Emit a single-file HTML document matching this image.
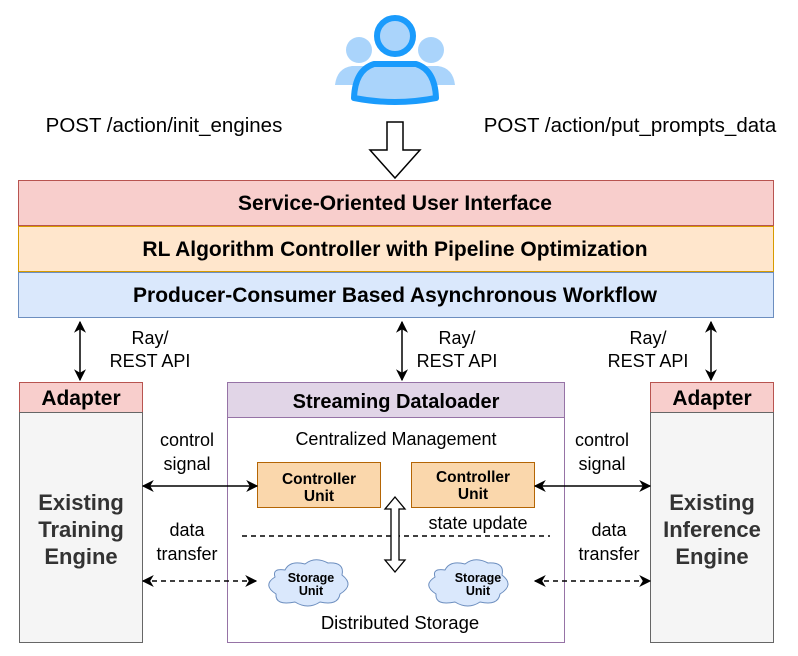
<!DOCTYPE html>
<html><head><meta charset="utf-8"><style>body{margin:0;background:#fff}svg{display:block;font-family:"Liberation Sans",Arial,sans-serif}</style></head><body>
<svg width="798" height="656" viewBox="0 0 798 656" xmlns="http://www.w3.org/2000/svg">
<defs>
<marker id="a" viewBox="0 0 10 10" refX="9" refY="5" markerWidth="12" markerHeight="12" orient="auto-start-reverse" markerUnits="userSpaceOnUse"><path d="M0,0 L10,5 L0,10 L3,5z" fill="#000"/></marker>
</defs>
<g>
<circle cx="359" cy="50" r="13" fill="#aad4fb"/>
<circle cx="431" cy="50" r="13" fill="#aad4fb"/>
<path d="M335,85 Q337,68 352,66 L366,66 Q380,70 380,85z" fill="#aad4fb"/>
<path d="M410,85 Q410,70 424,66 L438,66 Q453,68 455,85z" fill="#aad4fb"/>
<path d="M354,98 Q355,70 374,64 L416,64 Q435,70 436,98 Q395,106 354,98z" fill="#aad4fb" stroke="#1a9bfc" stroke-width="6" stroke-linejoin="round"/>
<circle cx="395" cy="36" r="18" fill="#aad4fb" stroke="#1a9bfc" stroke-width="6"/>
</g>
<text x="164" y="132" font-size="20.5" text-anchor="middle">POST /action/init_engines</text>
<text x="630" y="132" font-size="20.5" text-anchor="middle">POST /action/put_prompts_data</text>
<path d="M387,122 L403,122 L403,150 L420,150 L395,178 L370,150 L387,150z" fill="#fff" stroke="#000" stroke-width="1.5"/>
<rect x="18.5" y="180.5" width="755" height="45" fill="#f8cecc" stroke="#b85450"/>
<rect x="18.5" y="226.5" width="755" height="45" fill="#ffe6cc" stroke="#d79b00"/>
<rect x="18.5" y="272.5" width="755" height="45" fill="#dae8fc" stroke="#6c8ebf"/>
<g font-size="21" font-weight="bold" text-anchor="middle">
<text x="395" y="210">Service-Oriented User Interface</text>
<text x="395" y="256">RL Algorithm Controller with Pipeline Optimization</text>
<text x="395" y="302">Producer-Consumer Based Asynchronous Workflow</text>
</g>
<g stroke="#000" stroke-width="1.5" marker-start="url(#a)" marker-end="url(#a)">
<line x1="80" y1="322" x2="80" y2="380"/>
<line x1="402" y1="322" x2="402" y2="380"/>
<line x1="711" y1="322" x2="711" y2="380"/>
</g>
<g font-size="18" text-anchor="middle">
<text x="150" y="344">Ray/</text><text x="150" y="367">REST API</text>
<text x="457" y="344">Ray/</text><text x="457" y="367">REST API</text>
<text x="648" y="344">Ray/</text><text x="648" y="367">REST API</text>
</g>
<rect x="19.5" y="382.5" width="123" height="30" fill="#f8cecc" stroke="#b85450"/>
<rect x="19.5" y="412.5" width="123" height="230" fill="#f5f5f5" stroke="#666"/>
<rect x="650.5" y="382.5" width="123" height="30" fill="#f8cecc" stroke="#b85450"/>
<rect x="650.5" y="412.5" width="123" height="230" fill="#f5f5f5" stroke="#666"/>
<g font-size="21" font-weight="bold" text-anchor="middle">
<text x="81" y="405">Adapter</text><text x="712" y="405">Adapter</text>
</g>
<g font-size="22" font-weight="bold" text-anchor="middle" fill="#333">
<text x="81" y="510">Existing</text><text x="81" y="537">Training</text><text x="81" y="564">Engine</text>
<text x="712" y="510">Existing</text><text x="712" y="537">Inference</text><text x="712" y="564">Engine</text>
</g>
<rect x="227.5" y="382.5" width="337" height="260" fill="#fff" stroke="#9673a6"/>
<rect x="227.5" y="382.5" width="337" height="35" fill="#e1d5e7" stroke="#9673a6"/>
<text x="396" y="408" font-size="20" font-weight="bold" text-anchor="middle">Streaming Dataloader</text>
<text x="396" y="445" font-size="18" text-anchor="middle">Centralized Management</text>
<rect x="257.5" y="462.5" width="123" height="45" fill="#fad7ac" stroke="#b46504"/>
<rect x="411.5" y="462.5" width="123" height="45" fill="#fad7ac" stroke="#b46504"/>
<g font-size="15.5" font-weight="bold" text-anchor="middle">
<text x="319" y="484">Controller</text><text x="319" y="501">Unit</text>
<text x="473" y="482">Controller</text><text x="473" y="499">Unit</text>
</g>
<text x="478" y="529" font-size="18" text-anchor="middle">state update</text>
<line x1="242" y1="536" x2="550" y2="536" stroke="#000" stroke-width="1.5" stroke-dasharray="5,4"/>
<path d="M395,497 L405,509 L399,509 L399,560 L405,560 L395,572 L385,560 L391,560 L391,509 L385,509z" fill="#fff" stroke="#000" stroke-width="1.3"/>
<g fill="#dae8fc" stroke="#6c8ebf" stroke-width="1">
<path d="M285,570 Q290,560 305,564 Q315,556 328,563 Q345,562 342,575 Q355,585 340,594 Q338,606 320,602 Q308,610 295,602 Q275,606 276,594 Q262,585 275,577 Q272,568 285,570z"/>
<path d="M445,570 Q450,560 465,564 Q475,556 488,563 Q505,562 502,575 Q515,585 500,594 Q498,606 480,602 Q468,610 455,602 Q435,606 436,594 Q422,585 435,577 Q432,568 445,570z"/>
</g>
<g font-size="12.5" font-weight="bold" text-anchor="middle">
<text x="311" y="582">Storage</text><text x="311" y="595">Unit</text>
<text x="478" y="582">Storage</text><text x="478" y="595">Unit</text>
</g>
<text x="400" y="629" font-size="18.5" text-anchor="middle">Distributed Storage</text>
<g font-size="18" text-anchor="middle">
<text x="187" y="446">control</text><text x="187" y="470">signal</text>
<text x="187" y="536">data</text><text x="187" y="560">transfer</text>
<text x="602" y="446">control</text><text x="602" y="470">signal</text>
<text x="609" y="536">data</text><text x="609" y="560">transfer</text>
</g>
<g stroke="#000" stroke-width="1.5" marker-start="url(#a)" marker-end="url(#a)">
<line x1="143" y1="486" x2="257" y2="486"/>
<line x1="535" y1="486" x2="650" y2="486"/>
<line x1="143" y1="581" x2="256" y2="581" stroke-dasharray="5,4"/>
<line x1="535" y1="581" x2="650" y2="581" stroke-dasharray="5,4"/>
</g>
</svg>
</body></html>
